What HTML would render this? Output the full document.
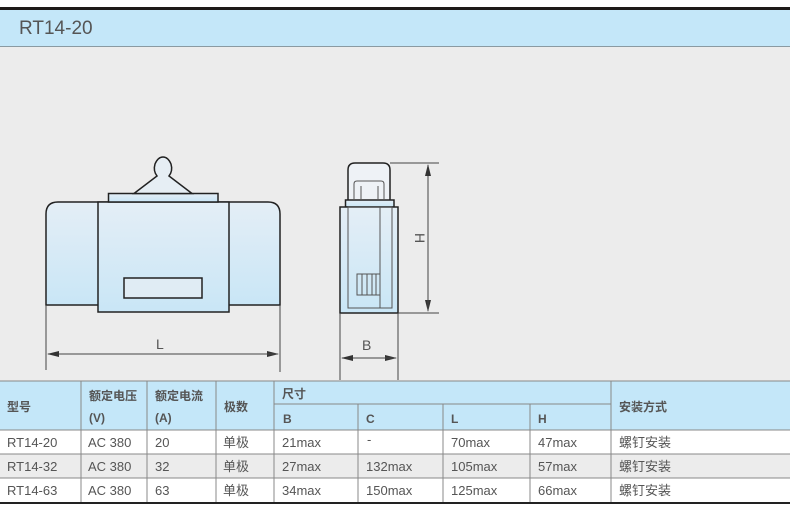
<!DOCTYPE html>
<html><head><meta charset="utf-8"><style>
html,body{margin:0;padding:0;width:790px;height:532px;overflow:hidden;background:#fff}
svg{display:block}
text{font-family:"Liberation Sans","Noto Sans CJK SC",sans-serif;fill:#555}
</style></head><body>
<svg width="790" height="532" viewBox="0 0 790 532" xmlns="http://www.w3.org/2000/svg">
<defs>
<linearGradient id="g" x1="0" y1="0" x2="0" y2="1"><stop offset="0" stop-color="#e4eef6"/><stop offset="1" stop-color="#c9e6f6"/></linearGradient>
<marker id="a" markerWidth="12" markerHeight="6" refX="11" refY="3" orient="auto" markerUnits="userSpaceOnUse"><path d="M0,0 L12,3 L0,6 Z" fill="#333"/></marker>
</defs>
<rect x="0" y="0" width="790" height="532" fill="#fff"/>
<rect x="0" y="7" width="790" height="3" fill="#1e1a18"/>
<rect x="0" y="10" width="790" height="36" fill="#c4e7f9"/>
<rect x="0" y="46" width="790" height="1" fill="#8a9aa2"/>
<rect x="0" y="47" width="790" height="334" fill="#ececec"/>
<text x="19" y="34" font-size="19" style="fill:#555">RT14-20</text>

<g stroke="#222" stroke-width="1.5" fill="url(#g)">
<path d="M46,305 L46,214 Q46,202 58,202 L268,202 Q280,202 280,214 L280,305 Z"/>
<rect x="98" y="202" width="131" height="110"/>
<rect x="108.5" y="193.5" width="109.5" height="8.5"/>
<path d="M134,193.5 L157,176 Q153,171 155,164 Q158,157 163,157 Q168,157 171,164 Q173,171 169,176 L192,193.5 Z" fill="#e6eef4"/>
<rect x="124" y="278" width="78" height="20" fill="#e0ecf4"/>
</g>
<g stroke="#444" stroke-width="1" fill="none">
<line x1="46" y1="305" x2="46" y2="370"/><line x1="280" y1="305" x2="280" y2="372"/>
<line x1="48" y1="354" x2="278" y2="354" marker-end="url(#a)"/>
<line x1="278" y1="354" x2="48" y2="354" marker-end="url(#a)"/>
</g>
<text x="156" y="349" font-size="14">L</text>

<g stroke="#222" stroke-width="1.5" fill="url(#g)">
<path d="M348,207 L348,170 Q348,163 355,163 L383,163 Q390,163 390,170 L390,207 Z" fill="#eef2f6"/>
<rect x="345.5" y="200" width="48.5" height="7"/>
<rect x="340" y="207" width="58" height="106"/>
</g>
<g stroke="#555" stroke-width="1" fill="none">
<path d="M354,200 L354,184 Q354,181 357,181 L381,181 Q384,181 384,184 L384,200"/>
<line x1="361" y1="186" x2="361" y2="200"/><line x1="378" y1="186" x2="378" y2="200"/>
<rect x="348" y="207" width="44" height="101"/>
<line x1="380" y1="207" x2="380" y2="308"/>
<rect x="357" y="274" width="23" height="21"/>
<line x1="362" y1="274" x2="362" y2="295"/><line x1="367" y1="274" x2="367" y2="295"/><line x1="372" y1="274" x2="372" y2="295"/><line x1="376" y1="274" x2="376" y2="295"/>
</g>
<g stroke="#444" stroke-width="1" fill="none">
<line x1="390" y1="163" x2="439" y2="163"/><line x1="398" y1="313" x2="439" y2="313"/>
<line x1="428" y1="165" x2="428" y2="311" marker-end="url(#a)"/>
<line x1="428" y1="311" x2="428" y2="165" marker-end="url(#a)"/>
<line x1="340" y1="313" x2="340" y2="380"/><line x1="398" y1="313" x2="398" y2="380"/>
<line x1="342" y1="358" x2="396" y2="358" marker-end="url(#a)"/>
<line x1="396" y1="358" x2="342" y2="358" marker-end="url(#a)"/>
</g>
<text x="0" y="0" font-size="14" transform="translate(415,238) rotate(90)" text-anchor="middle">H</text>
<text x="362" y="350" font-size="14">B</text>

<!-- table -->
<rect x="0" y="381" width="790" height="49" fill="#c4e7f9"/>
<rect x="0" y="430" width="790" height="24" fill="#fff"/>
<rect x="0" y="454" width="790" height="24" fill="#ececec"/>
<rect x="0" y="478" width="790" height="25" fill="#fff"/>
<g stroke="#888" stroke-width="1">
<line x1="0" y1="381" x2="790" y2="381"/>
<line x1="274" y1="404" x2="611" y2="404"/>
<line x1="0" y1="430" x2="790" y2="430"/>
<line x1="0" y1="454" x2="790" y2="454"/>
<line x1="0" y1="478" x2="790" y2="478"/>
<line x1="81" y1="381" x2="81" y2="503"/><line x1="147" y1="381" x2="147" y2="503"/>
<line x1="216" y1="381" x2="216" y2="503"/><line x1="274" y1="381" x2="274" y2="503"/>
<line x1="358" y1="404" x2="358" y2="503"/><line x1="443" y1="404" x2="443" y2="503"/>
<line x1="530" y1="404" x2="530" y2="503"/><line x1="611" y1="381" x2="611" y2="503"/>
</g>
<rect x="0" y="502" width="790" height="2" fill="#222"/>
<g font-size="12" font-weight="bold">
<text x="7" y="411" style="fill:#555">型号</text>
<text x="89" y="400">额定电压</text><text x="89" y="422">(V)</text>
<text x="155" y="400">额定电流</text><text x="155" y="422">(A)</text>
<text x="224" y="411">极数</text>
<text x="282" y="398">尺寸</text>
<text x="283" y="423">B</text><text x="366" y="423">C</text><text x="451" y="423">L</text><text x="538" y="423">H</text>
<text x="619" y="411">安装方式</text>
</g>
<g font-size="13">
<text x="7" y="447">RT14-20</text><text x="88" y="447">AC 380</text><text x="155" y="447">20</text><text x="223" y="447">单极</text><text x="282" y="447">21max</text><text x="367" y="444">-</text><text x="451" y="447">70max</text><text x="538" y="447">47max</text><text x="619" y="447">螺钉安装</text>
<text x="7" y="471">RT14-32</text><text x="88" y="471">AC 380</text><text x="155" y="471">32</text><text x="223" y="471">单极</text><text x="282" y="471">27max</text><text x="366" y="471">132max</text><text x="451" y="471">105max</text><text x="538" y="471">57max</text><text x="619" y="471">螺钉安装</text>
<text x="7" y="495">RT14-63</text><text x="88" y="495">AC 380</text><text x="155" y="495">63</text><text x="223" y="495">单极</text><text x="282" y="495">34max</text><text x="366" y="495">150max</text><text x="451" y="495">125max</text><text x="538" y="495">66max</text><text x="619" y="495">螺钉安装</text>
</g>
</svg>
</body></html>
